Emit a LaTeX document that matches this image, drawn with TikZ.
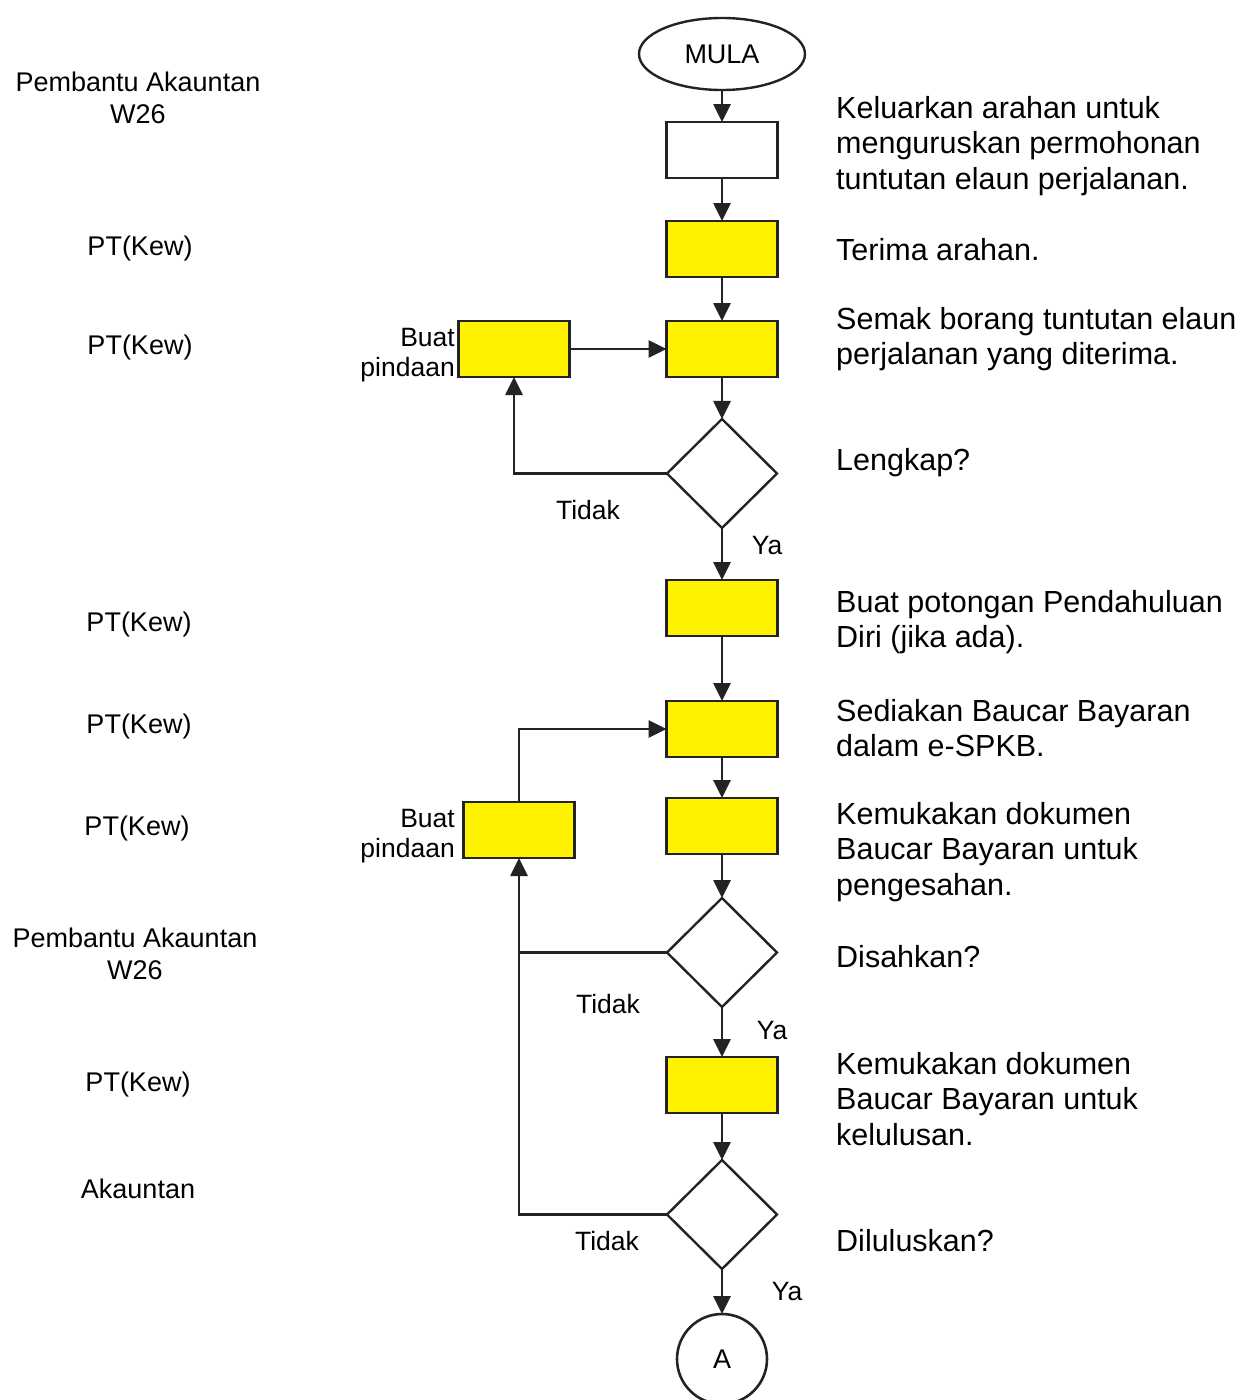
\documentclass[tikz,border=0pt]{standalone}
\usepackage{fontspec}
\setmainfont{Liberation Sans}
\usetikzlibrary{
	shapes.geometric,
	arrows.meta,
	positioning
}
\definecolor{boxyellow}{RGB}{255,242,0}
\definecolor{linegray}{RGB}{35,35,35}

\begin{document}
\begin{tikzpicture}[
				x=1pt, y=-1pt,
				stage/.style={
					rectangle, draw=linegray, line width=2.4pt,
					minimum width=111pt, minimum height=56pt,
					inner sep=0pt, outer sep=0pt
				},
				blankbox/.style={
					stage, fill=white
				},
				yellowbox/.style={
					stage, fill=boxyellow
				},
				decision/.style={
					diamond, draw=linegray, line width=2.4pt,
					minimum width=110pt, minimum height=109pt,
					inner sep=0pt, outer sep=0pt
				},
				terminal/.style={
					ellipse, draw=linegray, line width=2.4pt,
					minimum width=166pt, minimum height=72pt,
					inner sep=0pt, outer sep=0pt,
					font=\fontsize{27}{32}\selectfont
				},
				pageref/.style={
					circle, draw=linegray, line width=2.6pt,
					minimum size=90pt, inner sep=0pt, outer sep=0pt,
					font=\fontsize{27}{32}\selectfont
				},
				note/.style={anchor=west, align=left, inner sep=0pt,
					font=\fontsize{30.5}{35.5}\selectfont},
				role/.style={align=center, inner sep=0pt,
					font=\fontsize{27}{32}\selectfont},
				answer/.style={inner sep=0pt, font=\fontsize{26.5}{30}\selectfont},
				arrow/.style={-{Triangle[length=18pt,width=17pt]}, line width=2.7pt, linegray},
				link/.style={line width=2.7pt, linegray}
				]
				\useasboundingbox (0,0) rectangle (1251,1400);
				
				% start
				\node[terminal] (start) at (722,54) {MULA};
				
				% instruction
				\node[blankbox, below=32pt of start] (order) {};
				
				% receive
				\node[yellowbox, below=43pt of order] (receive) {};
				
				% check form
				\node[yellowbox, below=44pt of receive] (checkForm) {};
				
				% amend (first loop)
				\node[yellowbox, left=97pt of checkForm] (amendA) {};
				
				% complete?
				\node[decision, below=42pt of checkForm] (complete) {};
				
				% deduct advance
				\node[yellowbox, below=52pt of complete] (deduct) {};
				
				% prepare voucher
				\node[yellowbox, below=65pt of deduct] (prepare) {};
				
				% submit for verification
				\node[yellowbox, below=41pt of prepare] (submitA) {};
				
				% amend (second loop)
				\node[yellowbox, left=92pt of submitA, yshift=-4pt] (amendB) {};
				
				% verified?
				\node[decision, below=44pt of submitA] (verify) {};
				
				% submit for approval
				\node[yellowbox, below=50pt of verify] (submitB) {};
				
				% approved?
				\node[decision, below=47pt of submitB] (approve) {};
				
				% connector A
				\node[pageref, below=45pt of approve] (nextA) {A};
				
				% roles
				\node[role] (roleA) at (138,98) {Pembantu Akauntan\\W26};
				\node[role] (roleB) at (140,249) {PT(Kew)};
				\node[role] (roleC) at (140,348) {PT(Kew)};
				\node[role] (roleD) at (139,625) {PT(Kew)};
				\node[role] (roleE) at (139,727) {PT(Kew)};
				\node[role] (roleF) at (137,829) {PT(Kew)};
				\node[role] (roleG) at (135,954) {Pembantu Akauntan\\W26};
				\node[role] (roleH) at (138,1084) {PT(Kew)};
				\node[role] (roleI) at (138,1189) {Akauntan};
				
				% descriptions
				\node[note] (noteA) at (836,146) {Keluarkan arahan untuk\\menguruskan permohonan\\tuntutan elaun perjalanan.};
				\node[note] (noteB) at (836,250) {Terima arahan.};
				\node[note] (noteC) at (836,339) {Semak borang tuntutan elaun\\perjalanan yang diterima.};
				\node[note] (noteD) at (836,463) {Lengkap?};
				\node[note] (noteE) at (836,622) {Buat potongan Pendahuluan\\Diri (jika ada).};
				\node[note] (noteF) at (836,728) {Sediakan Baucar Bayaran\\dalam e-SPKB.};
				\node[note] (noteG) at (836,852) {Kemukakan dokumen\\Baucar Bayaran untuk\\pengesahan.};
				\node[note] (noteH) at (836,957) {Disahkan?};
				\node[note] (noteI) at (836,1099) {Kemukakan dokumen\\Baucar Bayaran untuk\\kelulusan.};
				\node[note] (noteJ) at (836,1241) {Diluluskan?};
				
				% amend labels
				\node[answer, align=right, anchor=east] (amendTextA) at (455,355) {Buat\\pindaan};
				\node[answer, align=right, anchor=east] (amendTextB) at (455,836) {Buat\\pindaan};
				
				% yes / no labels
				\node[answer] (noA) at (588,510) {Tidak};
				\node[answer] (yesA) at (767,546) {Ya};
				\node[answer] (noB) at (608,1004) {Tidak};
				\node[answer] (yesB) at (772,1031) {Ya};
				\node[answer] (noC) at (607,1241) {Tidak};
				\node[answer] (yesC) at (787,1291) {Ya};
				
				% proper arrows between nodes
				\draw[arrow] (start)    -- (order);
				\draw[arrow] (order)    -- (receive);
				\draw[arrow] (receive)  -- (checkForm);
				\draw[arrow] (checkForm) -- (complete);
				\draw[arrow] (complete) -- (deduct);
				\draw[arrow] (deduct)   -- (prepare);
				\draw[arrow] (prepare)  -- (submitA);
				\draw[arrow] (submitA)  -- (verify);
				\draw[arrow] (verify)   -- (submitB);
				\draw[arrow] (submitB)  -- (approve);
				\draw[arrow] (approve)  -- (nextA);
				
				% loops back
				\draw[arrow] (amendA) -- (checkForm);
				\draw[arrow] (complete.west) -| (amendA.south);
				\draw[arrow] (amendB.north) |- (prepare.west);
				\draw[link]  (verify.west) -- (verify.west -| amendB.south);
				\draw[arrow] (approve.west) -| (amendB.south);
			\end{tikzpicture}
\end{document}
